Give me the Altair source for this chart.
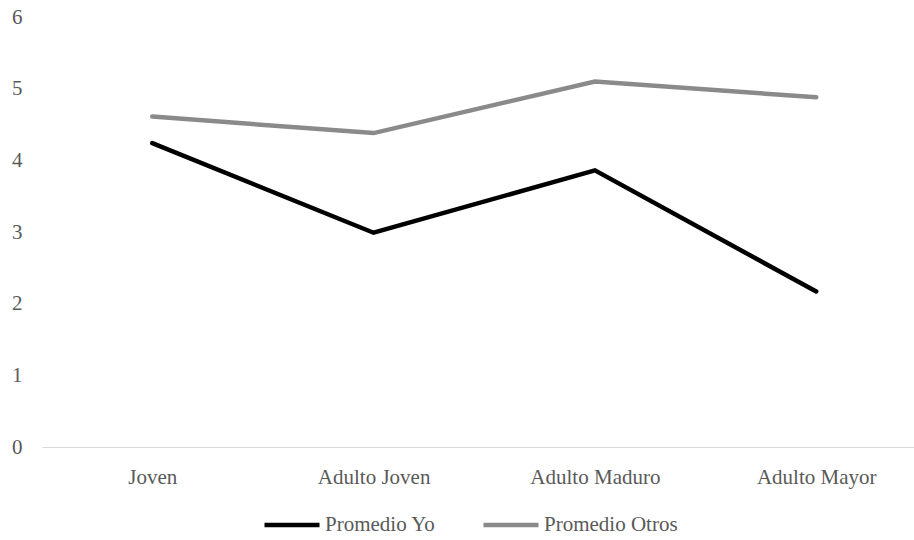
import altair as alt
import pandas as pd

# Age groups on the x axis
categories = ["Joven", "Adulto Joven", "Adulto Maduro", "Adulto Mayor"]
# Mean scores per group
promedio_yo = [4.24, 2.99, 3.86, 2.17]
promedio_otros = [4.61, 4.38, 5.10, 4.88]
series_names = ["Promedio Yo", "Promedio Otros"]
series_colors = ["#000000", "#8a8a8a"]
y_ticks = [0, 1, 2, 3, 4, 5, 6]

rows = []
for name, values in zip(series_names, [promedio_yo, promedio_otros]):
    for cat, v in zip(categories, values):
        rows.append({"Grupo": cat, "Valor": v, "Serie": name})
df = pd.DataFrame(rows)

FONT = "Liberation Serif"
LABEL_COLOR = "#595959"

lines = alt.Chart(df).mark_line(strokeWidth=4.5, strokeCap="round", strokeJoin="miter").encode(
    x=alt.X(
        "Grupo:N",
        sort=categories,
        scale=alt.Scale(type="point", padding=0.47, align=0.53),
        axis=alt.Axis(
            title=None,
            labelAngle=0,
            ticks=False,
            domain=True,
            domainColor="#d9d9d9",
            domainWidth=1.2,
            labelPadding=19,
            labelFont=FONT,
            labelFontSize=21,
            labelColor=LABEL_COLOR,
            grid=False,
        ),
    ),
    y=alt.Y(
        "Valor:Q",
        scale=alt.Scale(domain=[0, 6], nice=False, zero=True),
        axis=alt.Axis(
            title=None,
            values=y_ticks,
            ticks=False,
            domain=False,
            grid=False,
            labelPadding=20,
            labelFont=FONT,
            labelFontSize=21,
            labelColor=LABEL_COLOR,
        ),
    ),
    color=alt.Color(
        "Serie:N",
        sort=series_names,
        scale=alt.Scale(domain=series_names, range=series_colors),
        legend=alt.Legend(
            title=None,
            orient="none",
            direction="horizontal",
            legendX=220,
            legendY=478,
            symbolType="stroke",
            symbolSize=3025,
            symbolStrokeWidth=4.5,
            labelFont=FONT,
            labelFontSize=21,
            labelColor=LABEL_COLOR,
            labelOffset=3,
            columnPadding=38,
            labelLimit=300,
        ),
    ),
    order=alt.Order("Serie:N"),
)

chart = lines.properties(
    width=872,
    height=430,
    autosize=alt.AutoSizeParams(type="none"),
    padding={"left": 42, "top": 17, "right": 0, "bottom": 93},
    background="#ffffff",
).configure_view(stroke=None)

chart.save("out.html", embed_options={"renderer": "svg", "actions": False})
